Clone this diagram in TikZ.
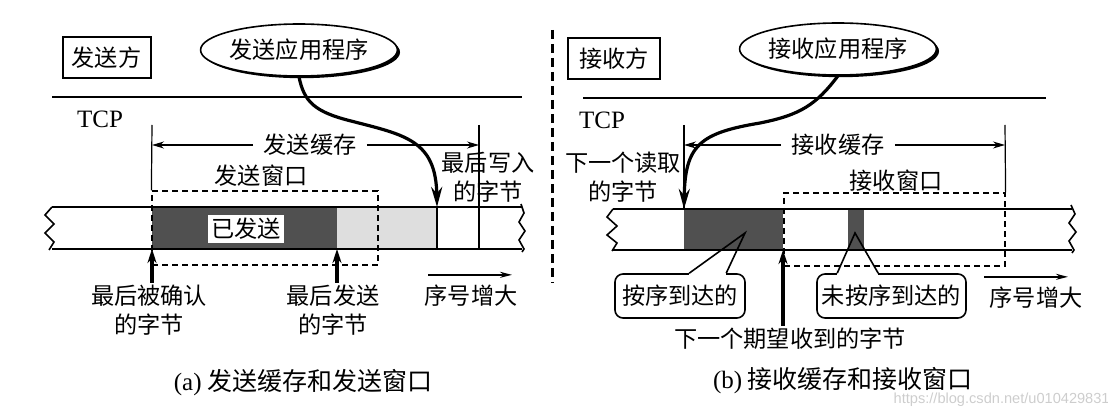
\documentclass[tikz,border=0pt]{standalone}
\usepackage{fontspec}
\setmainfont{Liberation Serif}
\newfontfamily\cjk{Noto Sans CJK SC}
\newfontfamily\wmfont{Liberation Sans}
\usetikzlibrary{arrows.meta,positioning,shapes.geometric,shadows}
\definecolor{sentGray}{RGB}{80,80,80}
\definecolor{pendGray}{RGB}{222,222,222}
\definecolor{markGray}{RGB}{205,205,205}
\tikzset{
  txt/.style={font=\cjk\fontsize{11.6}{14.5}\selectfont, align=center, inner sep=1pt},
  tcp/.style={font=\rmfamily\fontsize{12.5}{14}\selectfont, inner sep=1pt},
  sidebox/.style={txt, draw, line width=1pt, minimum width=44pt, minimum height=20.5pt, inner sep=0pt},
  app/.style={txt, ellipse, draw, line width=0.8pt, fill=white, minimum height=26pt, inner sep=0pt, drop shadow={shadow xshift=1.3pt, shadow yshift=-1.1pt, fill=black, opacity=1}},
  seg/.style={minimum height=21pt, inner sep=0pt, outer sep=0pt},
  win/.style={draw, dash pattern=on 3pt off 2pt, line width=0.6pt, inner sep=0pt},
  callout/.style={txt, draw, line width=0.8pt, rounded corners=4pt, fill=white, minimum height=22pt, inner sep=0pt},
  strip/.style={line width=0.8pt},
  tcpline/.style={line width=0.8pt},
  bufline/.style={line width=0.6pt},
  bufarrow/.style={-{Stealth[length=6pt,width=3.5pt]}, line width=0.6pt},
  feed/.style={-{Stealth[length=10pt,width=5.5pt]}, line width=1.6pt},
  upmark/.style={-{Stealth[length=7pt,width=4.5pt]}, line width=1.8pt},
  seqarrow/.style={-{Stealth[length=6pt,width=3pt]}, line width=0.9pt},
  calltail/.style={line width=0.8pt},
  divider/.style={dash pattern=on 4.5pt off 2.5pt, line width=1.5pt},
  capt/.style={font=\cjk\fontsize{12.5}{15}\selectfont, inner sep=1pt}
}

\begin{document}
\begin{tikzpicture}[x=0.5pt,y=-0.5pt]
  \useasboundingbox (0,0) rectangle (1108,411);

  % Sender side
  \node[sidebox] (sndside) at (106.5,57.5) {发送方};
  \node[app, minimum width=81pt] (sndapp) at (299,50) {发送应用程序};
  \coordinate (sndtcpL) at (52,97);
  \coordinate (sndtcpR) at (522,97);
  \draw[tcpline] (sndtcpL) -- (sndtcpR);
  \node[tcp] (sndtcp) at (100,119) {TCP};

  % Sender buffer strip
  \node[seg, fill=sentGray, minimum width=92.5pt] (sent) at (244.5,228) {};
  \node[seg, fill=pendGray, minimum width=50pt] (pend) at (387,228) {};
  \draw[strip] (52,207) -- (522,207) (52,249) -- (522,249);
  \draw[strip] (52,207) -- (45,215) -- (54,224) -- (45,233) -- (54,242) -- (49,250);
  \draw[strip] (521,204) -- (524,213) -- (519,222) -- (525,231) -- (519,240) -- (524,249) -- (522,252);
  \draw[bufline] (pend.north east) -- (pend.south east);
  \coordinate (sndbeg) at (152,125);
  \coordinate (sndend) at (479,125);
  \node[win, minimum width=113pt, minimum height=37pt] (sndwin) at (265,228) {};
  \draw[bufline] (sndbeg) -- (sndwin.north west);
  \draw[bufline] (sndend) -- (sndend |- sent.south);
  \node[txt, inner xsep=5pt] (sndbuf) at (310,145) {发送缓存};
  \draw[bufarrow] (sndbuf.west) -- (sndbuf.west -| sndbeg);
  \draw[bufarrow] (sndbuf.east) -- (sndbuf.east -| sndend);
  \node[txt] (sndwinlbl) at (261,176) {发送窗口};
  \node[txt, fill=white, inner sep=1.5pt] (sentlbl) at (246,229) {已发送};
  \node[txt] (lastwr) at (488,177.5) {最后写入\\的字节};
  \draw[feed] (sndapp.south) .. controls (304,102) and (315,112) .. (351,121)
    .. controls (405,135) and (436,140) .. (pend.north east);

  % Sender pointers
  \node[txt] (acklbl) at (149,310.5) {最后被确认\\的字节};
  \node[txt] (lastsent) at (333,310.5) {最后发送\\的字节};
  \draw[upmark] (acklbl.north -| sent.south west) -- (sent.south west);
  \draw[upmark] (lastsent.north -| sent.south east) -- (sent.south east);
  \node[txt] (sndseq) at (471,296) {序号增大};
  \draw[seqarrow] ([shift={(-21.5pt,4pt)}]sndseq.north) -- ([shift={(20.5pt,4pt)}]sndseq.north);
  \node[capt] (capa) at (303,383) {\textrm{(a)} 发送缓存和发送窗口};

  % Divider
  \coordinate (divtop) at (552,30);
  \coordinate (divbot) at (552,283);
  \draw[divider] (divtop) -- (divbot);

  % Receiver side
  \node[sidebox, minimum width=46pt] (rcvside) at (614,58.5) {接收方};
  \node[app, minimum width=79pt] (rcvapp) at (838,49) {接收应用程序};
  \coordinate (rcvtcpL) at (583,98);
  \coordinate (rcvtcpR) at (1046,98);
  \draw[tcpline] (rcvtcpL) -- (rcvtcpR);
  \node[tcp] (rcvtcp) at (602,120) {TCP};

  % Receiver buffer strip
  \node[seg, fill=sentGray, minimum width=49.5pt, minimum height=20.5pt] (inord) at (733.5,229.5) {};
  \node[seg, fill=sentGray, minimum width=8pt, minimum height=20.5pt] (outord) at (856,229.5) {};
  \draw[strip] (613,209) -- (1072,209) (613,250) -- (1072,250);
  \draw[strip] (613,209) -- (607,217) -- (617,226) -- (607,235) -- (617,243) -- (612,251);
  \draw[strip] (1071,205) -- (1075,214) -- (1069,223) -- (1076,232) -- (1069,241) -- (1074,250) -- (1072,253);
  \coordinate (rcvbeg) at (684,125);
  \coordinate (rcvend) at (1005,125);
  \node[win, minimum width=110.5pt, minimum height=36.5pt] (rcvwin) at (894.5,229.5) {};
  \draw[bufline] (rcvbeg) -- (inord.north west);
  \draw[bufline] (rcvend) -- (rcvwin.north east);
  \node[txt, inner xsep=5pt] (rcvbuf) at (838,145) {接收缓存};
  \draw[bufarrow] (rcvbuf.west) -- (rcvbuf.west -| rcvbeg);
  \draw[bufarrow] (rcvbuf.east) -- (rcvbuf.east -| rcvend);
  \node[txt] (rcvwinlbl) at (896,181) {接收窗口};
  \node[txt] (nextrd) at (623,177) {下一个读取\\的字节};
  \draw[feed] (rcvapp.south) .. controls (816,105) and (800,115) .. (760,123)
    .. controls (700,133) and (685,145) .. (inord.north west);

  % Receiver callouts and pointers
  \node[callout, minimum width=65pt] (inordlbl) at (680,296) {按序到达的};
  \node[callout, minimum width=74.5pt] (outordlbl) at (891.5,296) {未按序到达的};
  \coordinate (inordtip) at (745,233);
  \coordinate (outordtip) at (855,233);
  \fill[white] ([shift={(37.5pt,-1pt)}]inordlbl.north west) rectangle ([shift={(56pt,1pt)}]inordlbl.north west);
  \fill[white] ([shift={(10.5pt,-1pt)}]outordlbl.north west) rectangle ([shift={(31pt,1pt)}]outordlbl.north west);
  \draw[calltail] ([xshift=37.5pt]inordlbl.north west) -- (inordtip) -- ([xshift=56pt]inordlbl.north west);
  \draw[calltail] ([xshift=10.5pt]outordlbl.north west) -- (outordtip) -- ([xshift=31pt]outordlbl.north west);
  \node[txt] (nextexp) at (790,339) {下一个期望收到的字节};
  \draw[upmark] (nextexp.north -| inord.south east) -- (inord.south east);
  \node[txt] (rcvseq) at (1036,298) {序号增大};
  \draw[seqarrow] ([shift={(-26pt,4pt)}]rcvseq.north) -- ([shift={(16pt,4pt)}]rcvseq.north);
  \node[capt] (capb) at (843,381) {\textrm{(b)} 接收缓存和接收窗口};
  \node[font=\wmfont\fontsize{7.3}{9}\selectfont, text=markGray, anchor=east, inner sep=0pt] (wm) at (1110,400) {https://blog.csdn.net/u010429831};
\end{tikzpicture}
\end{document}
